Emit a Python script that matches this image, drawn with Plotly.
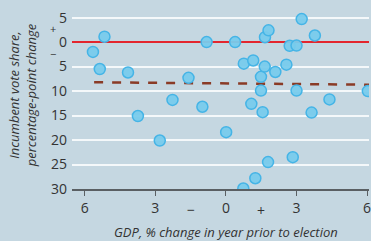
import plotly.graph_objects as go

# Data
gdp_change = [-5.65, -5.16, -5.36, -4.16, -3.74, -2.81, -2.27, -1.59, -1.0, -0.82,
              0.01, 0.39, 0.76, 0.74, 1.16, 1.25, 1.49, 1.49, 1.08, 1.56,
              1.65, 1.66, 1.81, 1.79, 2.10, 2.57, 2.71, 3.0, 3.0, 2.84,
              3.22, 3.64, 3.78, 4.4, 6.03]
vote_change = [-2.0, 1.1, -5.5, -6.2, -15.1, -20.1, -11.8, -7.3, -13.2, 0.0,
               -18.4, 0.0, -4.4, -29.9, -3.75, -27.8, -7.1, -9.9, -12.6, -14.3,
               -5.0, 1.0, 2.4, -24.5, -6.1, -4.6, -0.75, -0.7, -9.9, -23.5,
               4.7, -14.4, 1.35, -11.7, -10.0]
trend_x = [-5.6, 6.2]
trend_y = [-8.2, -8.7]

x_tickvals = [-6, -3, 0, 3, 6]
x_ticktext = ["6", "3", "0", "3", "6"]
y_tickvals = [5, 0, -5, -10, -15, -20, -25, -30]
y_ticktext = ["5", "0", "5", "10", "15", "20", "25", "30"]

BG = "#c5d7e1"
FONT = "Open Sans"
TXT = "#333333"

fig = go.Figure()
fig.add_trace(go.Scatter(
    x=trend_x, y=trend_y, mode="lines",
    line=dict(color="#8a3b26", width=2.5, dash="dash"),
    hoverinfo="skip", showlegend=False))
fig.add_trace(go.Scatter(
    x=gdp_change, y=vote_change, mode="markers",
    marker=dict(size=11, color="rgba(120,203,236,0.95)",
                line=dict(color="#45b4e6", width=1.5)),
    showlegend=False, cliponaxis=True))

fig.update_layout(
    width=371, height=241,
    margin=dict(l=72, r=0, t=0, b=52),
    paper_bgcolor=BG, plot_bgcolor=BG,
    font=dict(family=FONT, color=TXT),
    xaxis=dict(range=[-6.54, 6.08], tickvals=x_tickvals, ticktext=x_ticktext,
               showgrid=False, zeroline=False, showline=True,
               linecolor="#5a5f63", linewidth=2, ticklabeloverflow="allow",
               ticks="outside", ticklen=5, tickcolor="#5a5f63", tickwidth=1,
               tickfont=dict(size=14, color=TXT, family=FONT)),
    yaxis=dict(range=[-30, 8.6], tickvals=y_tickvals, ticktext=y_ticktext,
               showgrid=True, gridcolor="#f4f8fa", gridwidth=2,
               zeroline=True, zerolinecolor="#e3262e", zerolinewidth=1.5,
               ticks="", ticklabelstandoff=4,
               tickfont=dict(size=14, color=TXT, family=FONT)),
)

# sign markers
fig.add_annotation(x=-1.5, y=-30, xref="x", yref="y", text="−", showarrow=False,
                   yshift=-20, font=dict(size=14, color=TXT, family=FONT))
fig.add_annotation(x=1.5, y=-30, xref="x", yref="y", text="+", showarrow=False,
                   yshift=-21, font=dict(size=14, color=TXT, family=FONT))
fig.add_annotation(x=(53 - 72) / 299, y=2.7, xref="paper", yref="y", text="+",
                   showarrow=False, xanchor="center", yanchor="middle",
                   font=dict(size=11, color=TXT, family=FONT))
fig.add_annotation(x=(53 - 72) / 299, y=-2.3, xref="paper", yref="y", text="−",
                   showarrow=False, xanchor="center", yanchor="middle",
                   font=dict(size=11, color=TXT, family=FONT))

# axis titles
fig.add_annotation(x=0, y=-30, xref="x", yref="y", yshift=-43,
                   text="<i>GDP, % change in year prior to election</i>",
                   showarrow=False, xanchor="center", yanchor="middle",
                   font=dict(size=13, color=TXT, family=FONT))
fig.add_annotation(x=(22 - 72) / 299, y=1 - 95 / 189, xref="paper", yref="paper",
                   text="<i>Incumbent vote share,<br>percentage-point change</i>",
                   textangle=-90, showarrow=False, xanchor="center", yanchor="middle",
                   font=dict(size=13, color=TXT, family=FONT))

fig.write_html("out.html", config={"displayModeBar": False},
               post_script="document.body.style.margin='0';document.body.style.overflow='hidden';")
